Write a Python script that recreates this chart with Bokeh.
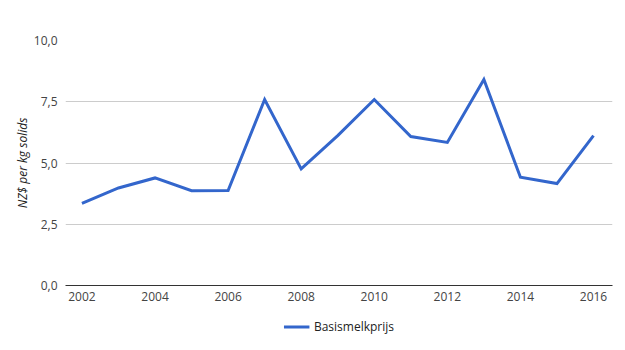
from bokeh.plotting import figure
from bokeh.layouts import column
from bokeh.models import Range1d, FixedTicker, Legend, LegendItem
from bokeh.embed import file_html
from bokeh.resources import INLINE

years = [2002, 2003, 2004, 2005, 2006, 2007, 2008, 2009, 2010, 2011, 2012, 2013, 2014, 2015, 2016]
prices = [3.35, 3.98, 4.39, 3.87, 3.88, 7.59, 4.76, 6.12, 7.59, 6.08, 5.84, 8.41, 4.42, 4.16, 6.12]
series_name = "Basismelkprijs"
y_title = "NZ$ per kg solids"
y_ticks = [0, 2.5, 5, 7.5, 10]
y_tick_labels = ["0,0", "2,5", "5,0", "7,5", "10,0"]
x_ticks = [2002, 2004, 2006, 2008, 2010, 2012, 2014, 2016]

FONT = "Open Sans"
LINE_COLOR = "#3366cc"

p = figure(width=625, height=310, output_backend="svg", toolbar_location=None,
           x_range=Range1d(2001.55, 2016.52), y_range=Range1d(0, 10),
           min_border_left=65, min_border_right=13, min_border_top=40, min_border_bottom=25)
p.outline_line_color = None
p.background_fill_color = "white"
p.border_fill_color = "white"

r = p.line(years, prices, line_color=LINE_COLOR, line_width=3, line_join="miter")

# y axis
p.yaxis.ticker = FixedTicker(ticks=y_ticks)
p.yaxis.major_label_overrides = {t: l for t, l in zip(y_ticks, y_tick_labels)}
p.yaxis.axis_line_color = None
p.yaxis.major_tick_line_color = None
p.yaxis.minor_tick_line_color = None
p.yaxis.major_tick_out = 0
p.yaxis.major_tick_in = 0
p.yaxis.major_label_text_font = FONT
p.yaxis.major_label_text_font_size = "12px"
p.yaxis.major_label_text_color = "#444444"
p.yaxis.major_label_standoff = 8
p.yaxis.axis_label = y_title
p.yaxis.axis_label_text_font = FONT
p.yaxis.axis_label_text_font_size = "12px"
p.yaxis.axis_label_text_font_style = "italic"
p.yaxis.axis_label_text_color = "#222222"
p.yaxis.axis_label_standoff = 0

# x axis
p.xaxis.ticker = FixedTicker(ticks=x_ticks)
p.xaxis.axis_line_color = "#333333"
p.xaxis.axis_line_width = 1
p.xaxis.major_tick_line_color = None
p.xaxis.minor_tick_line_color = None
p.xaxis.major_tick_out = 0
p.xaxis.major_tick_in = 0
p.xaxis.major_label_text_font = FONT
p.xaxis.major_label_text_font_size = "12px"
p.xaxis.major_label_text_color = "#444444"
p.xaxis.major_label_standoff = 6

p.xgrid.grid_line_color = None
p.ygrid.grid_line_color = "#cccccc"
p.ygrid.ticker = FixedTicker(ticks=y_ticks)

# legend strip below the chart
leg = figure(width=625, height=32, output_backend="svg", toolbar_location=None,
             x_range=Range1d(0, 1), y_range=Range1d(0, 1),
             x_axis_location=None, y_axis_location=None,
             min_border_left=63, min_border_right=13, min_border_top=0, min_border_bottom=0)
leg.outline_line_color = None
leg.xgrid.grid_line_color = None
leg.ygrid.grid_line_color = None
lr = leg.line(years, prices, line_color=LINE_COLOR, line_width=3)
legend = Legend(items=[LegendItem(label=series_name, renderers=[lr])],
                location="center", orientation="horizontal",
                label_text_font=FONT, label_text_font_size="12px", label_text_color="#222222",
                glyph_width=26, glyph_height=12, border_line_color=None,
                background_fill_alpha=0, padding=2, margin=0, spacing=4)
leg.add_layout(legend, "center")

open("out.html", "w").write(file_html(column(p, leg, spacing=0), INLINE))
